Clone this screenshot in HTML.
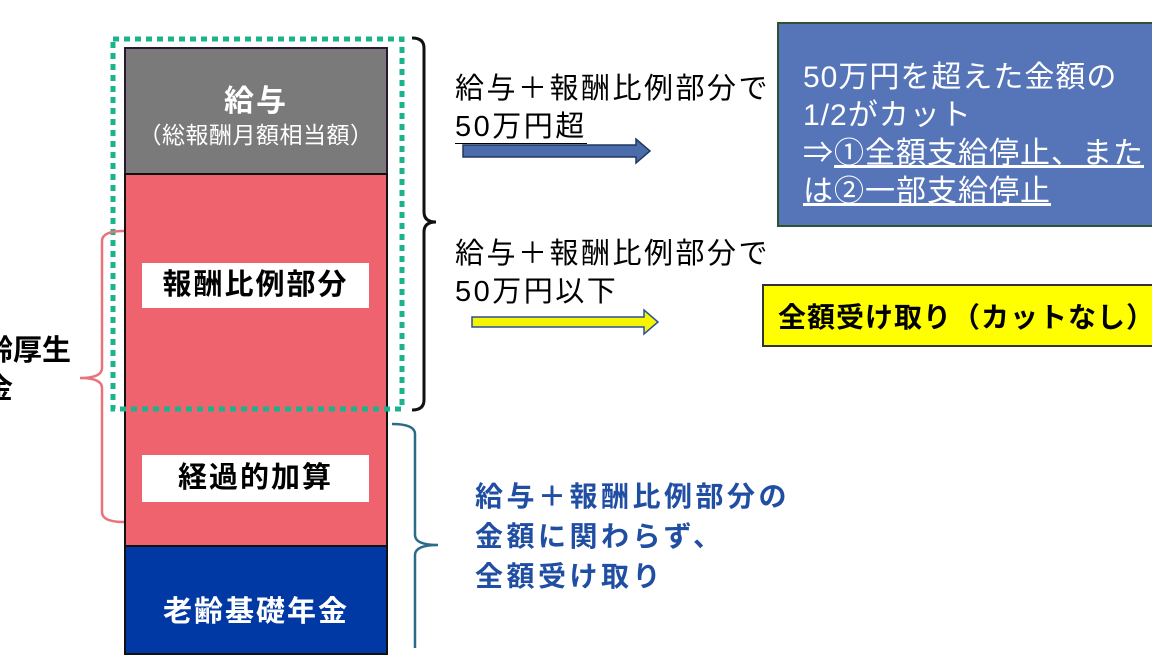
<!DOCTYPE html>
<html><head><meta charset="utf-8"><style>
body{margin:0;width:1152px;height:648px;overflow:hidden;background:#fff;position:relative;font-family:"Liberation Sans","Noto Sans CJK JP",sans-serif;}
div{position:absolute;box-sizing:border-box;}
.t{white-space:nowrap;}
</style></head><body>
<div style="left:124px;top:47px;width:264px;height:126px;background:#7a7a7a;border:2px solid #2a1830;border-bottom:none;"></div>
<div style="left:124px;top:173px;width:264px;height:373px;background:#ee636d;border:2px solid #111;border-bottom:none;"></div>
<div style="left:124px;top:545px;width:264px;height:110px;background:#0039a3;border:2px solid #111;"></div>
<div class="t" style="left:124px;top:76px;width:264px;text-align:center;color:#fff;font-size:30px;font-weight:bold;letter-spacing:2px;">給与</div>
<div class="t" style="left:124px;top:116px;width:264px;text-align:center;color:#fff;font-size:23px;letter-spacing:0.5px;">（総報酬月額相当額）</div>
<div class="t" style="left:142px;top:263px;width:227px;height:45px;background:#fff;text-align:center;font-size:29px;font-weight:bold;line-height:45px;letter-spacing:2px;">報酬比例部分</div>
<div class="t" style="left:142px;top:455px;width:227px;height:47px;background:#fff;text-align:center;font-size:29px;font-weight:bold;line-height:47px;letter-spacing:2px;">経過的加算</div>
<div class="t" style="left:124px;top:588px;width:264px;text-align:center;color:#fff;font-size:29px;font-weight:bold;letter-spacing:2px;">老齢基礎年金</div>
<div class="t" style="left:-45px;top:332px;font-size:29px;font-weight:bold;line-height:38px;">老齢厚生<br>年金</div>
<svg width="1152" height="648" style="position:absolute;left:0;top:0">
<rect x="113" y="39" width="289" height="370" fill="none" stroke="#1ab38b" stroke-width="5" stroke-dasharray="6 5"/>
<path d="M412 38 Q424 38 424 48 L424 212 Q424 222 436 222 Q424 222 424 232 L424 400 Q424 410 412 410" fill="none" stroke="#111" stroke-width="3"/>
<path d="M124 231 Q102 231 102 241 L102 368 Q102 378 80 378 Q102 378 102 388 L102 512 Q102 522 124 522" fill="none" stroke="#e8737b" stroke-width="2.5"/>
<path d="M392 424 Q415 424 415 434 L415 535 Q415 545 438 545 Q415 545 415 555 L415 660" fill="none" stroke="#2a6a8a" stroke-width="2.5"/>
<polygon points="463,145 636,145 636,139 650,151 636,163 636,157 463,157" fill="#4a6cab" stroke="#23375e" stroke-width="1.5"/>
<polygon points="472,317 644,317 644,310 658,322 644,334 644,327 472,327" fill="#f5f500" stroke="#2c4fa0" stroke-width="1.5"/>
</svg>
<div class="t" style="left:455px;top:70px;font-size:29px;line-height:38px;letter-spacing:2.5px;">給与＋報酬比例部分で<br><span style="border-bottom:1.5px solid #000;">50万円超</span></div>
<div class="t" style="left:455px;top:235px;font-size:29px;line-height:38px;letter-spacing:2.5px;">給与＋報酬比例部分で<br>50万円以下</div>
<div style="left:777px;top:22px;width:380px;height:205px;background:#5675b9;border:2px solid #2f5230;"></div>
<div class="t" style="left:803px;top:59px;color:#fff;font-size:30px;line-height:38px;letter-spacing:1px;">50万円を超えた金額の<br>1/2がカット<br>⇒<u>①全額支給停止、また</u><br><u>は②一部支給停止</u></div>
<div style="left:762px;top:284px;width:395px;height:63px;background:#ffff00;border:2px solid #333;"></div>
<div class="t" style="left:778px;top:296px;font-size:28px;font-weight:bold;letter-spacing:1px;">全額受け取り（カットなし）</div>
<div class="t" style="left:475px;top:477px;color:#1f4ea3;font-size:28px;font-weight:bold;line-height:40px;letter-spacing:3.5px;">給与＋報酬比例部分の<br>金額に関わらず、<br>全額受け取り</div>
</body></html>
